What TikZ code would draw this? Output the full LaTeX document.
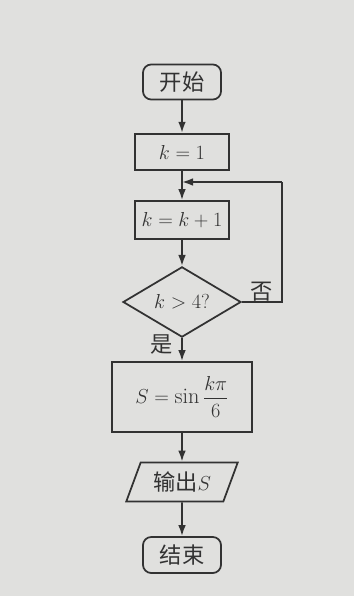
\documentclass[tikz,border=0pt]{standalone}
\usepackage{amsmath}
\usepackage{fontspec}
\newfontfamily\cjk{Noto Sans CJK SC}
\usetikzlibrary{shapes.geometric,scopes,arrows.meta}
\definecolor{ink}{RGB}{50,50,50}
\definecolor{paper}{RGB}{224,224,222}

\begin{document}
\begin{tikzpicture}[
    x=0.03cm,y=-0.03cm,
    font=\fontsize{19}{22}\selectfont,
    every node/.style={text=ink},
    flow/.style={>={Latex[length=3.3mm,width=2.3mm]},draw=ink,line width=1.5pt},
    term/.style={rectangle,rounded corners=7pt,draw=ink,line width=1.5pt,minimum width=2.34cm,minimum height=1.05cm},
    proc/.style={rectangle,draw=ink,line width=1.5pt,minimum width=2.82cm,minimum height=1.1cm},
    cond/.style={diamond,draw=ink,line width=1.5pt,minimum width=3.54cm,minimum height=1.59cm,inner sep=0pt},
    io/.style={trapezium,trapezium left angle=68,trapezium right angle=112,trapezium stretches=true,draw=ink,line width=1.5pt,minimum width=3.35cm,minimum height=1.17cm},
]
    \fill[paper] (0,0) rectangle (354,596);
    \useasboundingbox (0,0) rectangle (354,596);
    \node[term] (start) at (182,82) {\cjk 开始};
    \node[proc] (k1) at (182,152) {$k=1$};
    \node[proc,minimum height=1.14cm] (k2) at (182,220) {$k=k+1$};
    \node[cond] (dec) at (182,302) {$k>4?$};
    \node[proc,minimum width=4.2cm,minimum height=2.1cm] (sbox) at (182,397) {$S=\sin\dfrac{k\pi}{6}$};
    \node[io] (out) at (182,482) {\cjk 输出$S$};
    \node[term,minimum height=1.08cm] (stop) at (182,555) {\cjk 结束};
    \coordinate (back) at (282,182);
    \coordinate (join) at (182,182);
    {[flow,->]
        \draw (start) -- (k1);
        \draw (k1) -- (k2);
        \draw (k2) -- (dec);
        \draw (dec) -- (sbox);
        \draw (sbox) -- (out);
        \draw (out) -- (stop);
    }
    \draw[flow] (dec.east) -| (back);
    \draw[flow,->] (back) -- (join);
    \node (no) at (262,292) {\cjk 否};
    \node (yes) at (162,345) {\cjk 是};
\end{tikzpicture}
\end{document}
